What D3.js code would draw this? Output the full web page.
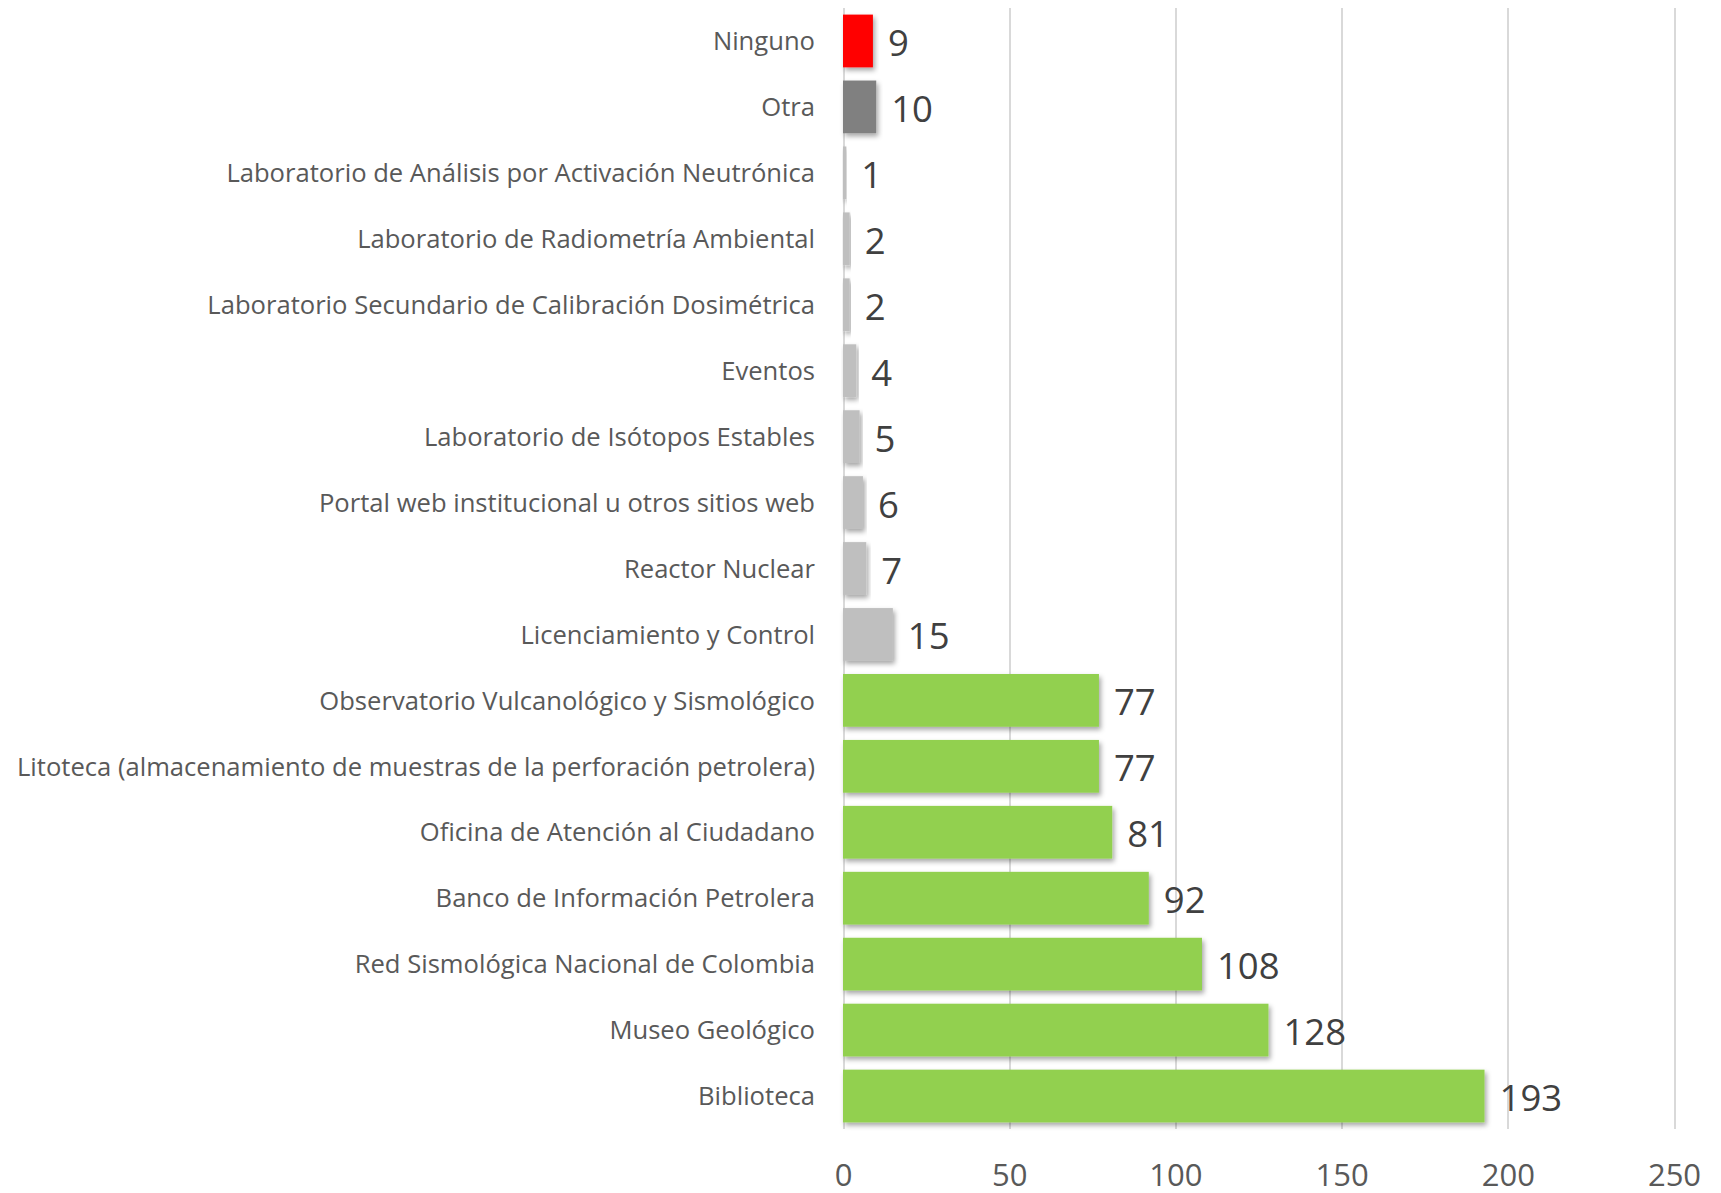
<!DOCTYPE html>
<html lang="es">
<head>
	<meta charset="utf-8">
	<title>Servicios</title>
	<style type="text/css">
		body { margin: 0; background: #fff; }
		.grid line { stroke: #d9d9d9; stroke-width: 2px; shape-rendering: crispEdges; }
		.grid path { display: none; }
		.grid text { font-family: "Open Sans", sans-serif; font-size: 31px; fill: #595959; }
		.cats path { display: none; }
		.cats text { font-family: "Open Sans", sans-serif; font-size: 25.6px; fill: #595959; }
		.val { font-family: "Open Sans", sans-serif; font-size: 36.5px; fill: #404040; }
	</style>
</head>
<body>
	<div id="vis"></div>
	<script src="https://cdn.jsdelivr.net/npm/d3@7"></script>
	<script type="text/javascript">

		var categories = [
			"Ninguno",
			"Otra",
			"Laboratorio de Análisis por Activación Neutrónica",
			"Laboratorio de Radiometría Ambiental",
			"Laboratorio Secundario de Calibración Dosimétrica",
			"Eventos",
			"Laboratorio de Isótopos Estables",
			"Portal web institucional u otros sitios web",
			"Reactor Nuclear",
			"Licenciamiento y Control",
			"Observatorio Vulcanológico y Sismológico",
			"Litoteca (almacenamiento de muestras de la perforación petrolera)",
			"Oficina de Atención al Ciudadano",
			"Banco de Información Petrolera",
			"Red Sismológica Nacional de Colombia",
			"Museo Geológico",
			"Biblioteca"
		];
		var values = [9, 10, 1, 2, 2, 4, 5, 6, 7, 15, 77, 77, 81, 92, 108, 128, 193];
		var groups = ["ninguno", "otra", "menor", "menor", "menor", "menor", "menor", "menor",
					  "menor", "menor", "mayor", "mayor", "mayor", "mayor", "mayor", "mayor", "mayor"];
		var xTicks = [0, 50, 100, 150, 200, 250];

		var w = 1721;
		var h = 1193;
		var plotLeft = 843, plotRight = 1674, plotTop = 8, plotBottom = 1129;

		var color = d3.scaleOrdinal()
						.domain(["ninguno", "otra", "menor", "mayor"])
						.range(["#ff0000", "#808080", "#bfbfbf", "#92d050"]);

		var xScale = d3.scaleLinear()
						.domain([0, 250])
						.range([plotLeft, plotRight]);

		var yScale = d3.scaleBand()
						.domain(categories)
						.range([plotTop, plotBottom])
						.paddingInner(0.2)
						.paddingOuter(0.1);

		var svg = d3.select("#vis")
					.append("svg")
					.attr("width", w)
					.attr("height", h);

		//Shadow filter
		var f = svg.append("defs").append("filter")
			.attr("id", "shadow")
			.attr("x", "-10%").attr("y", "-30%")
			.attr("width", "130%").attr("height", "170%");
		f.append("feDropShadow")
			.attr("dx", 2).attr("dy", 3)
			.attr("stdDeviation", 2.5)
			.attr("flood-color", "#000")
			.attr("flood-opacity", 0.35);

		//Gridlines + x labels
		svg.append("g")
			.attr("class", "grid")
			.attr("transform", "translate(0," + plotBottom + ")")
			.call(d3.axisBottom(xScale)
				.tickValues(xTicks)
				.tickSize(-(plotBottom - plotTop))
				.tickPadding(35));

		//Bars
		svg.selectAll("rect.bar")
			.data(values)
			.enter()
			.append("rect")
			.attr("class", "bar")
			.attr("x", xScale(0))
			.attr("y", function(d, i) { return yScale(categories[i]); })
			.attr("width", function(d) { return xScale(d) - xScale(0); })
			.attr("height", yScale.bandwidth())
			.attr("fill", function(d, i) { return color(groups[i]); })
			.attr("filter", "url(#shadow)");

		//Category labels
		svg.append("g")
			.attr("class", "cats")
			.attr("transform", "translate(" + plotLeft + ",1)")
			.call(d3.axisLeft(yScale).tickSize(0).tickPadding(28));

		//Value labels
		svg.selectAll("text.val")
			.data(values)
			.enter()
			.append("text")
			.attr("class", "val")
			.attr("x", function(d) { return xScale(d) + 15; })
			.attr("y", function(d, i) { return yScale(categories[i]) + yScale.bandwidth() / 2 + 1; })
			.attr("dominant-baseline", "central")
			.text(function(d) { return d; });

	</script>
</body>
</html>
